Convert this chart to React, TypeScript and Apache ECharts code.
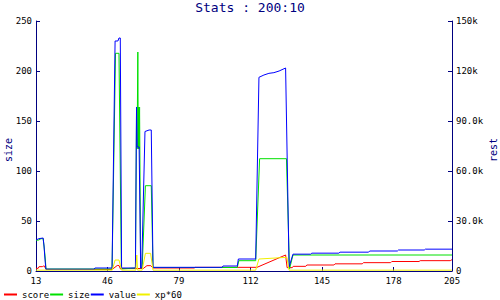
import React, { useEffect, useRef } from "react";
import * as echarts from "echarts";

const TITLE = "Stats : 200:10";
const LEFT_AXIS_NAME = "size";
const RIGHT_AXIS_NAME = "rest";
const X_MIN = 13;
const X_MAX = 205;
const X_INTERVAL = 33;
const SIZE_MAX = 250;
const REST_MAX = 150000;

// [turn, score]  (right axis "rest")
const scoreData: [number, number][] = [
  [13, 1600], [14, 1600], [14.4, 2600], [16, 2600], [16.3, 3000], [16.9, 3000], [17.6, 900],
  [48.1, 900], [50.5, 3300], [51.3, 3300], [52, 1200], [52.5, 1500], [62.5, 1500],
  [64.2, 3200], [66, 3200], [67, 1800], [86, 1800], [86.5, 2200], [115, 2200],
  [128.2, 9600], [128.9, 2000], [131.3, 2000], [131.7, 2800], [137.5, 2800], [138, 3600],
  [150.5, 3600], [151, 4300], [163.6, 4300], [164.1, 5000], [176.7, 5000], [177.2, 5700],
  [189.8, 5700], [190.3, 6200], [204.2, 6200], [205, 6800],
];

// [turn, size]  (left axis "size")
const sizeData: [number, number][] = [
  [13, 30.7], [14.3, 31], [15.3, 32.3], [16.3, 32.3], [16.7, 25], [17.3, 12], [17.6, 2],
  [48.1, 2], [49.7, 217.7], [51.3, 217.7], [52.4, 2], [58.9, 3], [59.4, 164], [59.6, 122],
  [59.8, 164], [60, 219], [60.2, 122], [60.4, 164], [60.6, 122], [60.8, 164], [61.3, 3],
  [62, 3], [63.5, 85.3], [66.2, 85.3], [67, 3.5], [105.9, 3.5], [106.6, 10.3], [114.4, 10.3],
  [116.2, 112.3], [128.6, 112.3], [130, 2], [131.6, 16], [205, 16],
];

// [turn, value]  (right axis "rest")
const valueData: [number, number][] = [
  [13, 18600], [14.3, 19400], [16.3, 19800], [16.7, 15000], [17.2, 6000], [17.6, 1100],
  [39.8, 1100], [40.2, 1800], [48.1, 1800], [49.5, 138000], [50.8, 138000], [51.3, 139800],
  [51.9, 139800], [52.5, 1800], [58.9, 1800], [59.4, 98400], [59.7, 74400], [60.6, 74400],
  [61.3, 1800], [61.8, 1800], [63.3, 83700], [65.2, 84600], [66.2, 84600], [67, 2200],
  [98.9, 2200], [99.3, 3000], [105.9, 3000], [106.4, 7200], [114.4, 7200], [115.9, 116200],
  [118.2, 117600], [120.5, 118600], [122.8, 119000], [125.2, 120000], [128.2, 121800],
  [128.5, 121800], [129.8, 2400], [131.6, 10100], [139.8, 10100], [140.3, 10700],
  [152.8, 10700], [153.3, 11300], [166.5, 11300], [167, 12000], [179.8, 12000],
  [180.3, 12600], [192.2, 12600], [192.7, 13100], [205, 13100],
];

// [turn, xp*60]  (right axis "rest")
const xpData: [number, number][] = [
  [13, 500], [48.2, 500], [49.5, 6600], [51.3, 6600], [52.5, 500], [59.1, 500], [59.5, 9600],
  [59.9, 500], [62, 500], [63.5, 10600], [65.9, 10600], [67, 500], [114.4, 500],
  [115.9, 7200], [128.8, 8200], [129.8, 500], [205, 500],
];

const SERIES_NAMES = ["score", "size", "value", "xp*60"];
const SERIES_COLORS = ["#ff0000", "#00e000", "#0000ff", "#f0f000"];

const NAVY = "#000080";
const MONO = "DejaVu Sans Mono, monospace";

function restLabel(v: number): string {
  if (v === 0) return "0";
  if (v >= 100000) return v / 1000 + "k";
  return (v / 1000).toFixed(1) + "k";
}

export default function App() {
  const ref = useRef<HTMLDivElement>(null);
  useEffect(() => {
    if (!ref.current) return;
    const chart = echarts.init(ref.current, null, { renderer: "svg" });
    const datasets = [scoreData, sizeData, valueData, xpData];
    const axisIdx = [1, 0, 1, 1];
    const axisCommon = {
      axisLine: { show: true, lineStyle: { color: NAVY, width: 1 } },
      axisTick: { show: true, inside: true, length: 4, lineStyle: { color: NAVY } },
      splitLine: { show: false },
    };
    chart.setOption({
      animation: false,
      backgroundColor: "#ffffff",
      title: {
        text: TITLE,
        left: "center",
        top: 1,
        padding: 0,
        textStyle: { fontFamily: MONO, fontSize: 13, fontWeight: "normal", color: NAVY },
      },
      legend: {
        left: 4,
        top: 290,
        padding: 0,
        icon: "rect",
        itemWidth: 13,
        itemHeight: 2,
        itemGap: 1,
        data: SERIES_NAMES,
        textStyle: { fontFamily: MONO, fontSize: 9, color: "#000", width: 30 },
      },
      graphic: [
        {
          type: "text",
          x: 8,
          y: 150,
          rotation: Math.PI / 2,
          style: {
            text: LEFT_AXIS_NAME,
            fill: NAVY,
            font: "10px " + MONO,
            align: "center",
            verticalAlign: "middle",
          },
        },
        {
          type: "text",
          x: 493,
          y: 150,
          rotation: Math.PI / 2,
          style: {
            text: RIGHT_AXIS_NAME,
            fill: NAVY,
            font: "10px " + MONO,
            align: "center",
            verticalAlign: "middle",
          },
        },
      ],
      grid: { left: 36, right: 48, top: 21, bottom: 29, outerBoundsMode: "none", containLabel: false },
      xAxis: {
        type: "value",
        min: X_MIN,
        max: X_MAX,
        interval: X_INTERVAL,
        ...axisCommon,
        axisLabel: { fontFamily: MONO, fontSize: 9, color: "#000", margin: 5 },
      },
      yAxis: [
        {
          type: "value",
          min: 0,
          max: SIZE_MAX,
          interval: 50,
          ...axisCommon,
          axisLabel: { fontFamily: MONO, fontSize: 9, color: "#000", margin: 4 },
        },
        {
          type: "value",
          min: 0,
          max: REST_MAX,
          interval: 30000,
          position: "right",
          ...axisCommon,
          axisLabel: { fontFamily: MONO, fontSize: 9, color: "#000", margin: 4, formatter: restLabel },
        },
      ],
      series: SERIES_NAMES.map((name, i) => ({
        name,
        type: "line",
        yAxisIndex: axisIdx[i],
        data: datasets[i],
        showSymbol: false,
        symbol: "none",
        color: SERIES_COLORS[i],
        lineStyle: { width: 1, color: SERIES_COLORS[i] },
        z: 2 + i,
      })),
    });
    return () => chart.dispose();
  }, []);
  return (
    <div
      ref={ref}
      style={{ position: "fixed", left: 0, top: 0, width: 500, height: 300 }}
    />
  );
}
